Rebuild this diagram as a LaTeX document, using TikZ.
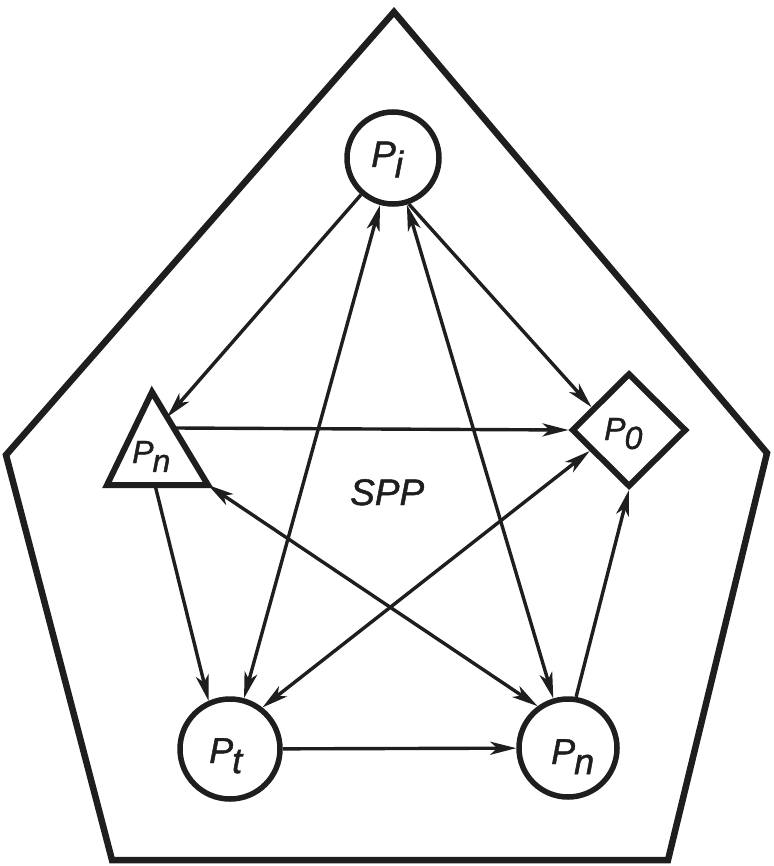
\documentclass[tikz,border=0pt]{standalone}
\usepackage{fontspec}
\setmainfont{Liberation Sans}[ItalicFeatures={FakeBold=1.3}]
\usetikzlibrary{arrows.meta,shapes.geometric,calc}
\definecolor{ink}{HTML}{1E1E1E}
\newcommand\plab[2]{\itshape #1\kern-0.03em\raisebox{-0.28em}{#2}}
\begin{document}
\begin{tikzpicture}[x=1pt,y=-1pt,
  frame/.style={draw=ink,line width=6.5pt,line join=miter},
  circ/.style={circle,draw=ink,line width=5.5pt,inner sep=0pt,fill=white},
  shp/.style={draw=ink,line width=6pt,line join=miter},
  lab/.style={inner sep=0pt,anchor=base west,text=ink},
  arr/.style={draw=ink,line width=3.4pt},
  one/.style={arr,-{Stealth[length=26pt,width=13pt,inset=7pt]}},
  two/.style={arr,{Stealth[length=26pt,width=13pt,inset=7pt]}-{Stealth[length=26pt,width=13pt,inset=7pt]}},
]
\useasboundingbox (0,0) rectangle (773,866);
\fill[white] (0,0) rectangle (773,866);
% pentagon
\draw[frame] (394,12) -- (767,453) -- (668,860) -- (112,860) -- (6,455) -- cycle;
% nodes
\node[circ,minimum size=92pt] (pi) at (393,158) {};
\node[circ,minimum size=100pt] (pt) at (230,749) {};
\node[circ,minimum size=98pt] (pn2) at (568,748) {};
\node[diamond,shp,minimum width=115pt,minimum height=114pt,inner sep=0pt] (p0) at (629,430) {};
\coordinate (ta) at (152,392);
\coordinate (tl) at (107,485);
\coordinate (tr) at (208,485);
\draw[shp] (ta) -- (tr) -- (tl) -- cycle;
% labels
\node[lab,font=\fontsize{37}{37}\selectfont] (piL) at (371,167) {\plab{P}{i}};
\node[lab,font=\fontsize{32}{32}\selectfont] (pnL) at (132,463) {\plab{P}{n}};
\node[lab,font=\fontsize{32}{32}\selectfont] (p0L) at (604,440) {\plab{P}{0}};
\node[lab,font=\fontsize{36}{36}\selectfont] (ptL) at (209,763) {\plab{P}{t}};
\node[lab,font=\fontsize{36}{36}\selectfont] (pn2L) at (551,764) {\plab{P}{n}};
\node[lab,font=\fontsize{37}{37}\selectfont\itshape] (spp) at (350,505) {SPP};
% connector end points on triangle and diamond
\coordinate (triA) at ($(ta)!0.27!(tr)$);
\coordinate (triE) at ($(ta)!0.387!(tr)$);
\coordinate (triF) at ($(tl)!0.475!(tr)$);
\coordinate (p0a) at ($(p0.west)!0.38!(p0.north)$);
\coordinate (p0h) at ($(p0.west)!0.35!(p0.south)$);
% connectors
\draw[one] (pi) -- (triA);
\draw[two] (pi) -- (pt);
\draw[two] (pi) -- (pn2);
\draw[one] (pi.-71) -- (p0a);
\draw[one] (triE) -- (p0.west);
\draw[one] (triF) -- (pt.114);
\draw[two] (tr) -- (pn2.126);
\draw[two] (pt.52) -- (p0h);
\draw[one] (pn2.81) -- (p0.south);
\draw[one] (pt) -- (pn2);
\end{tikzpicture}
\end{document}
